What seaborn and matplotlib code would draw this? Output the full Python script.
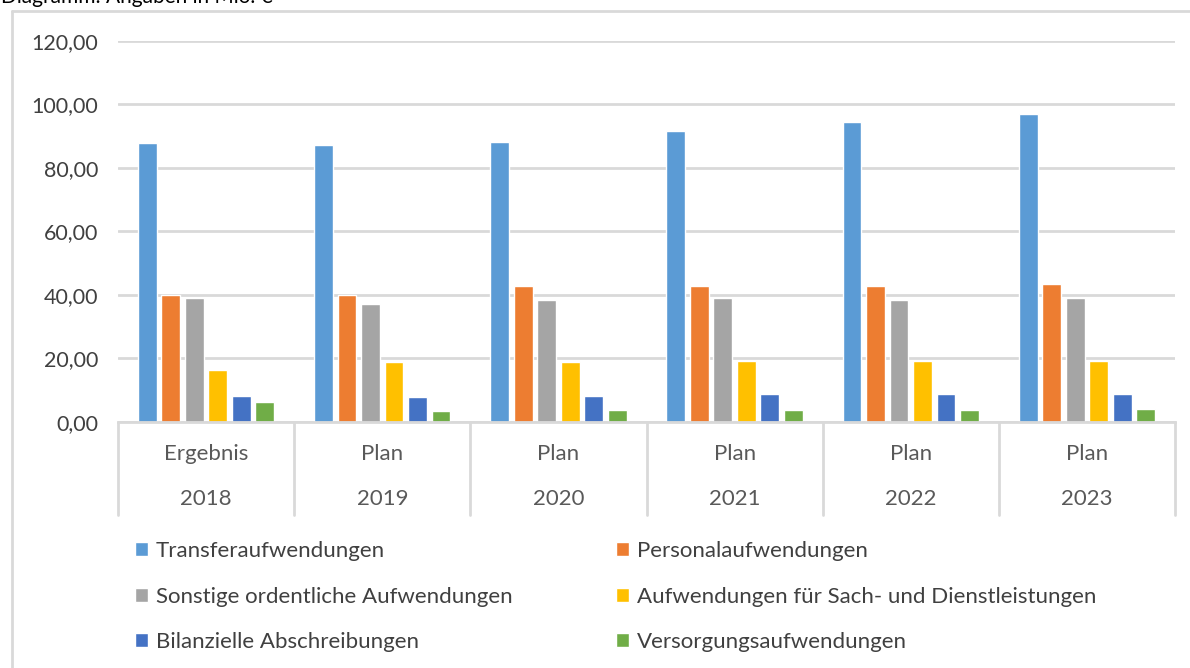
import matplotlib
matplotlib.use("Agg")
import matplotlib.pyplot as plt
import matplotlib.transforms as mtransforms
import seaborn as sns
import pandas as pd

years = ["2018", "2019", "2020", "2021", "2022", "2023"]
kinds = ["Ergebnis", "Plan", "Plan", "Plan", "Plan", "Plan"]
series_names = [
    "Transferaufwendungen",
    "Personalaufwendungen",
    "Sonstige ordentliche Aufwendungen",
    "Aufwendungen für Sach- und Dienstleistungen",
    "Bilanzielle Abschreibungen",
    "Versorgungsaufwendungen",
]
transfer = [87.9, 87.3, 88.2, 91.7, 94.5, 97.1]
personal = [40.0, 40.0, 42.8, 42.8, 42.8, 43.4]
sonstige = [39.0, 37.1, 38.4, 39.0, 38.4, 39.0]
sach = [16.3, 18.8, 18.8, 19.1, 19.1, 19.1]
abschreibungen = [8.1, 7.8, 8.1, 8.7, 8.7, 8.7]
versorgung = [6.2, 3.4, 3.7, 3.7, 3.7, 4.0]
yticks = [0, 20, 40, 60, 80, 100, 120]
colors = ["#5B9BD5", "#ED7D31", "#A5A5A5", "#FFC000", "#4472C4", "#70AD47"]

all_series = [transfer, personal, sonstige, sach, abschreibungen, versorgung]
rows = []
for name, vals in zip(series_names, all_series):
    for y, v in zip(years, vals):
        rows.append({"Jahr": y, "Wert": v, "Kategorie": name})
df = pd.DataFrame(rows)

sns.set_theme(style="white")
plt.rcParams["font.family"] = ["Lato", "DejaVu Sans"]

W, H = 1190, 668
fig = plt.figure(figsize=(W / 100, H / 100), dpi=100)
ax = fig.add_axes([118 / W, 1 - 421.7 / H, (1175 - 118) / W, (421.7 - 41) / H])

sns.barplot(data=df, x="Jahr", y="Wert", hue="Kategorie", palette=colors,
            width=0.8, gap=0.2, ax=ax, order=years, hue_order=series_names,
            saturation=1, errorbar=None)

handles, labels = ax.get_legend_handles_labels()
if ax.get_legend() is not None:
    ax.get_legend().remove()

ax.set_ylim(0, 120)
ax.set_xlim(-0.5, len(years) - 0.5)
ax.set_yticks(yticks)
ax.set_yticklabels([f"{v:.2f}".replace(".", ",") for v in yticks])
ax.tick_params(axis="y", length=0, pad=14.4, labelsize=15.5, labelcolor="#404040")
ax.set_xticks([])
ax.set_xlabel("")
ax.set_ylabel("")
for s in ["top", "right", "left"]:
    ax.spines[s].set_visible(False)
ax.spines["bottom"].set_color("#D9D9D9")
ax.spines["bottom"].set_linewidth(2)
ax.grid(axis="y", color="#D9D9D9", linewidth=2)
ax.set_axisbelow(True)

trans = mtransforms.blended_transform_factory(ax.transData, ax.transAxes)
ax_h = 421.7 - 41
sep_bottom = -(515 - 421.7) / ax_h
for i in range(len(years) + 1):
    ax.plot([i - 0.5, i - 0.5], [0, sep_bottom], transform=trans,
            color="#D9D9D9", lw=2, clip_on=False)
for i, (k, y) in enumerate(zip(kinds, years)):
    ax.text(i, -(454 - 421.7) / ax_h, k, transform=trans, ha="center",
            va="center", fontsize=16, color="#595959")
    ax.text(i, -(499 - 421.7) / ax_h, y, transform=trans, ha="center",
            va="center", fontsize=16, color="#595959")

# outer chart frame (left and top edges visible)
fig.add_artist(plt.Line2D([12 / W, 12 / W], [0, 1 - 11 / H], color="#D9D9D9", lw=2))
fig.add_artist(plt.Line2D([12 / W, 1], [1 - 11 / H, 1 - 11 / H], color="#D9D9D9", lw=2))

fig.text(1 / W, 1 - 3 / H, "Diagramm: Angaben in Mio. €", ha="left", va="baseline",
         fontsize=15, color="#000000")

order_cols = [[0, 2, 4], [1, 3, 5]]
col_x = [135 / W, 616 / W]
for cx, idxs in zip(col_x, order_cols):
    fig.legend([handles[i] for i in idxs], [labels[i] for i in idxs],
               loc="upper left", bbox_to_anchor=(cx, 1 - 541 / H),
               frameon=False, fontsize=16, labelcolor="#404040",
               handlelength=0.6, handleheight=0.6, handletextpad=0.35,
               labelspacing=1.15, borderpad=0, borderaxespad=0)

fig.savefig("out.png", dpi=100)
